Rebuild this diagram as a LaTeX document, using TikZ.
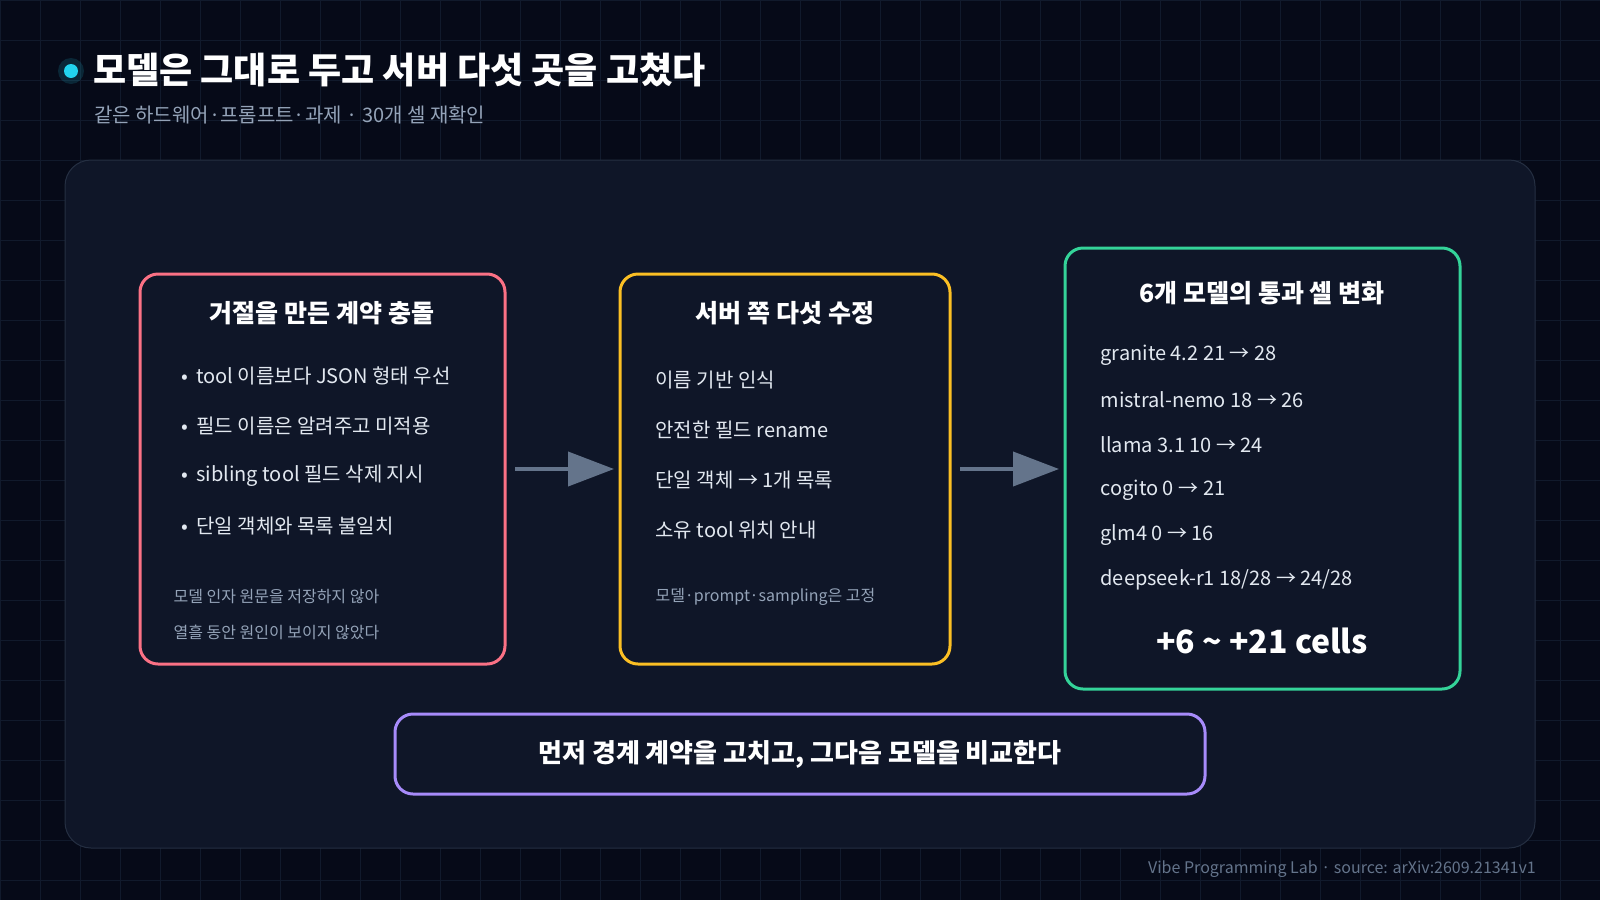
\documentclass[tikz,border=0pt]{standalone}
\usepackage{fontspec}
\setmainfont{Noto Sans CJK KR}
\usetikzlibrary{arrows.meta}
\definecolor{bg}{HTML}{060A18}
\definecolor{gridc}{HTML}{111A2C}
\definecolor{panel}{HTML}{0F1628}
\definecolor{panelb}{HTML}{252F42}
\definecolor{cyanc}{HTML}{22D3EE}
\definecolor{sub}{HTML}{94A3B8}
\definecolor{redc}{HTML}{FB7185}
\definecolor{yelc}{HTML}{FBBF24}
\definecolor{grnc}{HTML}{34D399}
\definecolor{purc}{HTML}{A78BFA}
\definecolor{arr}{HTML}{64748B}
\definecolor{txt}{HTML}{E2E8F0}
\begin{document}
\begin{tikzpicture}[x=1pt,y=-1pt,
  box/.style={draw=#1,line width=3pt,rounded corners=18pt,fill=panel},
  ttl/.style={text=white,font=\fontsize{25}{28}\selectfont\bfseries},
  item/.style={text=txt,anchor=west,font=\fontsize{20}{24}\selectfont},
  note/.style={text=sub,anchor=west,font=\fontsize{16}{20}\selectfont},
  conn/.style={draw=arr,line width=4pt,-{Triangle[length=46pt,width=34pt]}}]
\fill[bg] (0,0) rectangle (1600,900);
\useasboundingbox (0,0) rectangle (1600,900);
\foreach \x in {0,40,...,1600} \draw[gridc,line width=0.8pt] (\x,0)--(\x,900);
\foreach \y in {0,40,...,900} \draw[gridc,line width=0.8pt] (0,\y)--(1600,\y);
% header
\fill[cyanc,opacity=0.15] (71,71) circle (13);
\fill[cyanc] (71,71) circle (7);
\node[anchor=west,inner sep=0,text=white,font=\fontsize{36}{40}\selectfont\bfseries] (title) at (93,70) {모델은 그대로 두고 서버 다섯 곳을 고쳤다};
\node[anchor=west,inner sep=0,text=sub,font=\fontsize{20}{24}\selectfont] (subt) at (94,115) {같은 하드웨어·프롬프트·과제 · 30개 셀 재확인};
% panel
\draw[panelb,fill=panel,line width=1pt,rounded corners=26pt] (65,160) rectangle (1535,848);
% boxes
\draw[box=redc] (140,274) rectangle (505,664);
\node[coordinate] (b1) at (505,469) {};
\node[ttl] (t1) at (322,313) {거절을 만든 계약 충돌};
\foreach \t/\y in {{tool 이름보다 JSON 형태 우선}/376,{필드 이름은 알려주고 미적용}/426,{sibling tool 필드 삭제 지시}/476,{단일 객체와 목록 불일치}/526}{
  \node[item] at (178,\y) {\textbullet\hspace{8pt}\t};}
\node[note] (n1) at (170,597) {모델 인자 원문을 저장하지 않아};
\node[note] (n2) at (170,632) {열흘 동안 원인이 보이지 않았다};
\draw[box=yelc] (620,274) rectangle (950,664);
\node[coordinate] (b2l) at (620,469) {};
\node[coordinate] (b2r) at (950,469) {};
\node[ttl] (t2) at (785,313) {서버 쪽 다섯 수정};
\foreach \t/\y in {{이름 기반 인식}/380,{안전한 필드 rename}/430,{단일 객체 → 1개 목록}/480,{소유 tool 위치 안내}/530}{
  \node[item] at (652,\y) {\t};}
\node[note] (n3) at (652,597) {모델·prompt·sampling은 고정};
\draw[box=grnc] (1065,248) rectangle (1460,689);
\node[coordinate] (b3) at (1065,469) {};
\node[ttl] (t3) at (1262,293) {6개 모델의 통과 셀 변화};
\foreach \t/\y in {{granite 4.2 21 → 28}/355,{mistral-nemo 18 → 26}/400,{llama 3.1 10 → 24}/445,{cogito 0 → 21}/490,{glm4 0 → 16}/535,{deepseek-r1 18/28 → 24/28}/580}{
  \node[item] at (1097,\y) {\t};}
\node[text=white,font=\fontsize{32}{36}\selectfont\bfseries] (big) at (1262,641) {+6 \textasciitilde{} +21 cells};
\draw[box=purc] (395,714) rectangle (1205,794);
\node[text=white,font=\fontsize{26}{30}\selectfont\bfseries] (b4) at (800,754) {먼저 경계 계약을 고치고, 그다음 모델을 비교한다};
% arrows
\draw[conn] ([xshift=10pt]b1) -- ([xshift=-6pt]b2l);
\draw[conn] ([xshift=10pt]b2r) -- ([xshift=-6pt]b3);
\node[anchor=east,inner sep=0,text=arr,font=\fontsize{16}{20}\selectfont] (foot) at (1536,869) {Vibe Programming Lab · source: arXiv:2609.21341v1};
\end{tikzpicture}
\end{document}
